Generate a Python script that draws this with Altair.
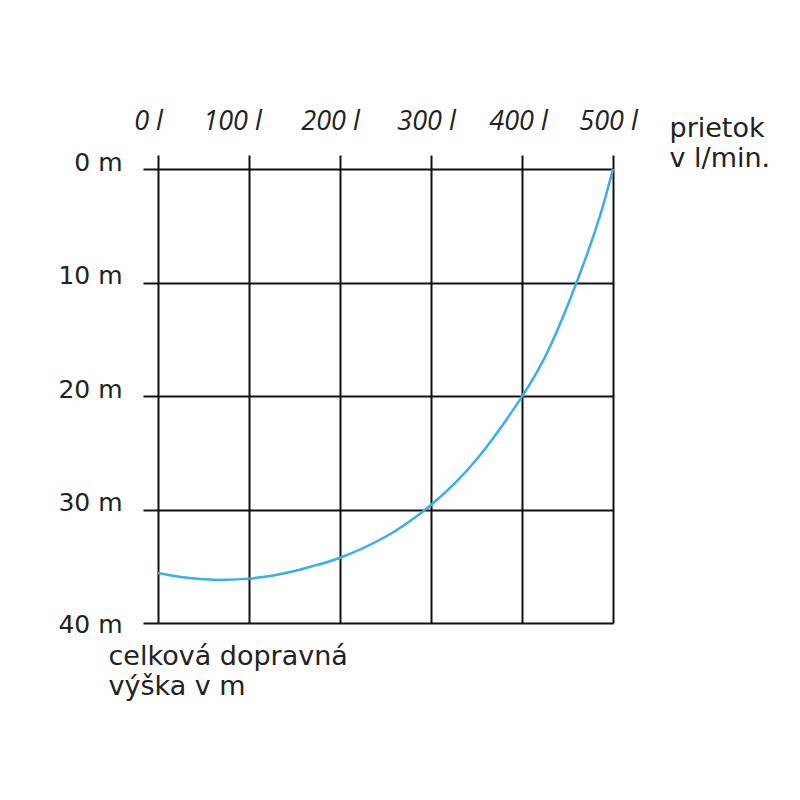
import altair as alt
import pandas as pd

flow = [0, 25, 50, 75, 100, 125, 150, 175, 200, 250, 300, 350, 400, 430, 460, 485, 500]
head = [35.6, 35.95, 36.15, 36.2, 36.09, 35.83, 35.42, 34.88, 34.25, 32.4, 29.6, 25.6, 20.05, 15.8, 10.0, 4.3, 0]

x_ticks = [0, 100, 200, 300, 400, 500]
x_label_shift = [-10, -17, -10, -5, -4, -5]
y_ticks = [0, 10, 20, 30, 40]
x_title = ["prietok", "v l/min."]
y_title = ["celková dopravná", "výška v m"]

df = pd.DataFrame({"flow": flow, "head": head})

x_offset = {
    "condition": [
        {"test": f"datum.value == {v}", "value": s}
        for v, s in zip(x_ticks, x_label_shift)
    ],
    "value": -8,
}

chart = alt.Chart(df).mark_line(
    color="#3aaeea", strokeWidth=2.5, interpolate="natural"
).encode(
    x=alt.X(
        "flow:Q",
        scale=alt.Scale(domain=[0, 500], nice=False),
        axis=alt.Axis(
            orient="top",
            values=x_ticks,
            labelExpr="datum.value + ' l'",
            labelFont="Open Sans",
            labelFontStyle="italic",
            labelFontSize=27,
            labelColor="#222222",
            labelPadding=20,
            labelOffset=x_offset,
            labelOverlap=False,
            labelFlush=False,
            labelBound=False,
            tickSize=14,
            tickWidth=2,
            tickColor="#111111",
            domain=False,
            grid=True,
            gridColor="#111111",
            gridWidth=2,
            gridOpacity=1,
            title=x_title,
            titleFont="DejaVu Sans",
            titleFontSize=27,
            titleFontWeight="normal",
            titleColor="#222222",
            titleAlign="left",
            titleBaseline="top",
            titleAngle=0,
            titleX=511,
            titleY=-54,
            titleLineHeight=30,
        ),
    ),
    y=alt.Y(
        "head:Q",
        scale=alt.Scale(domain=[0, 40], nice=False, reverse=True),
        axis=alt.Axis(
            orient="left",
            values=y_ticks,
            labelExpr="datum.value + ' m'",
            labelFont="DejaVu Sans",
            labelFontSize=25,
            labelColor="#222222",
            labelPadding=21,
            labelOffset={"condition": {"test": "datum.value == 40", "value": 1}, "value": -7},
            labelOverlap=False,
            labelFlush=False,
            labelBound=False,
            tickSize=15,
            tickWidth=2,
            tickColor="#111111",
            domain=False,
            grid=True,
            gridColor="#111111",
            gridWidth=2,
            gridOpacity=1,
            title=y_title,
            titleFont="DejaVu Sans",
            titleFontSize=27,
            titleFontWeight="normal",
            titleColor="#222222",
            titleAlign="left",
            titleBaseline="top",
            titleAngle=0,
            titleX=-50,
            titleY=474,
            titleLineHeight=30,
        ),
    ),
).properties(
    width=455,
    height=454,
    autosize=alt.AutoSizeParams(type="none"),
    padding={"left": 150, "top": 161, "right": 170, "bottom": 150},
).configure_view(stroke=None)

chart.save("out.html", embed_options={"renderer": "svg", "actions": False})
